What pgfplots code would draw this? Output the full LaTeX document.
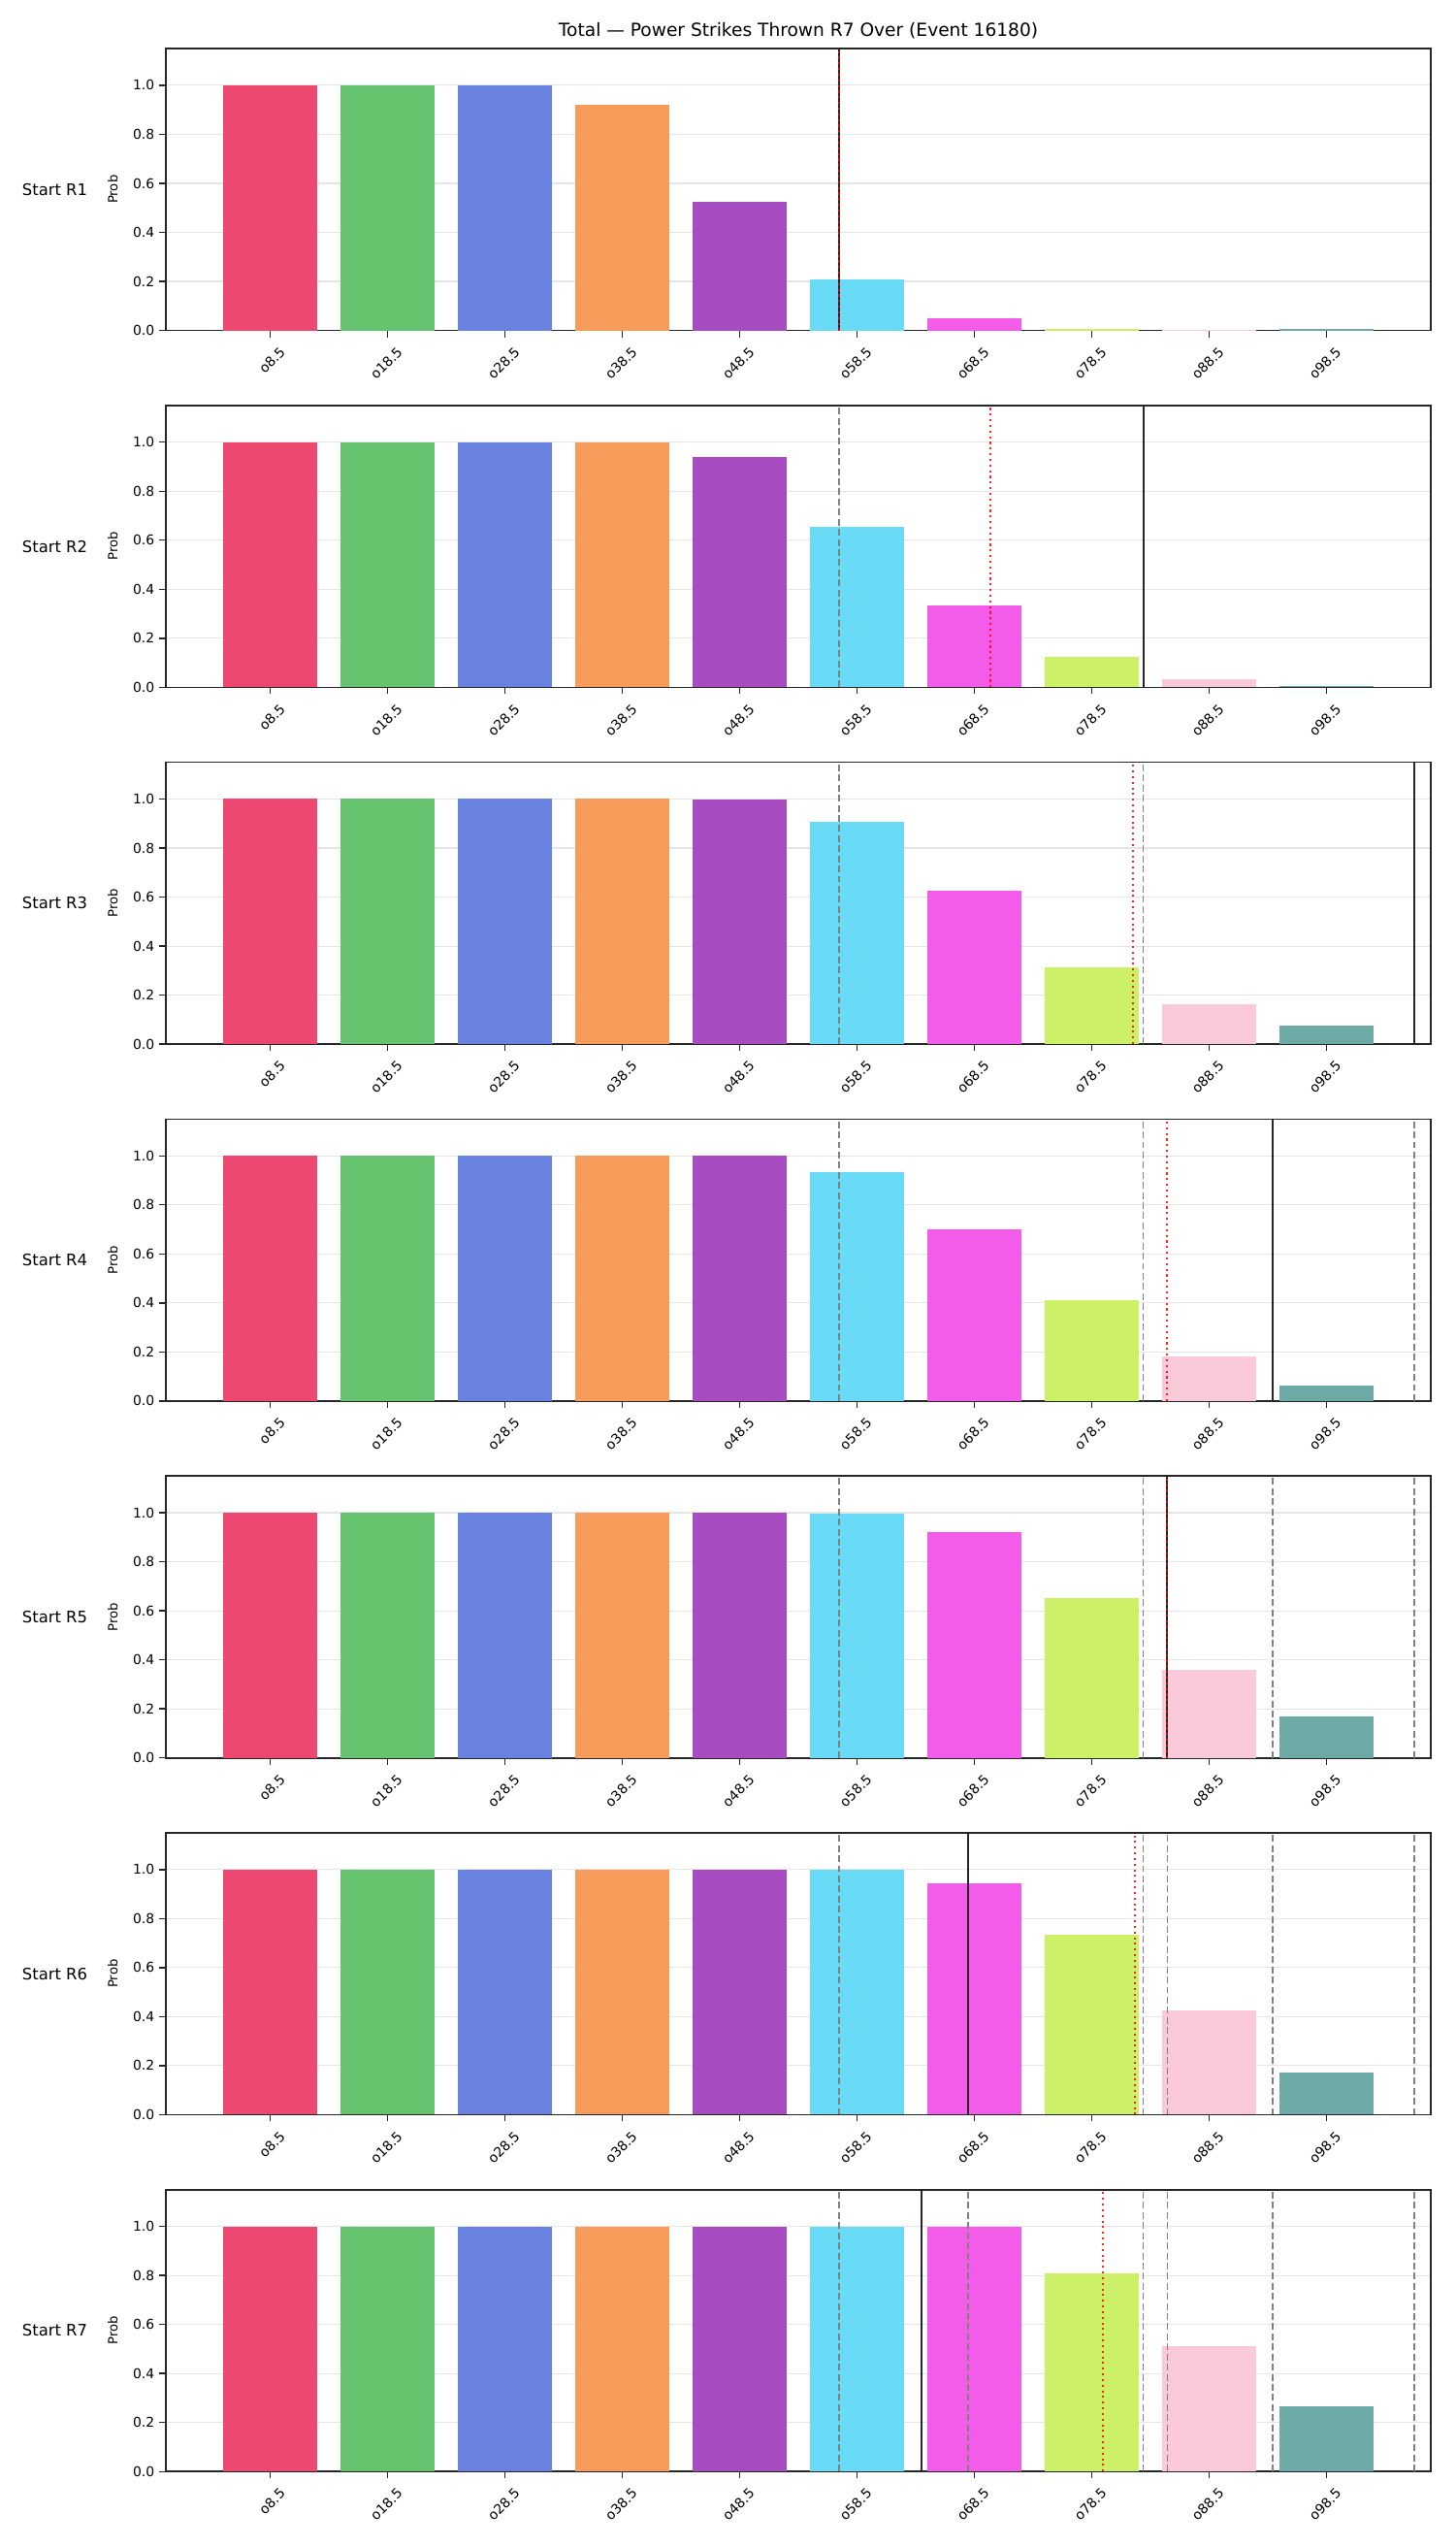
\documentclass[border=0pt]{standalone}
\usepackage{fontspec}
\setmainfont{DejaVu Sans}
\usepackage{pgfplots}
\usepackage{pgfplotstable}
\pgfplotsset{compat=1.18}

\definecolor{c0}{HTML}{EC4870}
\definecolor{c1}{HTML}{66C36E}
\definecolor{c2}{HTML}{6A82DF}
\definecolor{c3}{HTML}{F79C5B}
\definecolor{c4}{HTML}{A64BC0}
\definecolor{c5}{HTML}{69DBF6}
\definecolor{c6}{HTML}{F25CE9}
\definecolor{c7}{HTML}{CCF068}
\definecolor{c8}{HTML}{FAC9DA}
\definecolor{c9}{HTML}{6DAAA6}
\definecolor{spine}{HTML}{262626}

\pgfplotstableread{
idx r1    r2    r3    r4    r5    r6    r7
0   1.000 1.000 1.000 1.000 1.000 1.000 1.000
1   1.000 1.000 1.000 1.000 1.000 1.000 1.000
2   1.000 1.000 1.000 1.000 1.000 1.000 1.000
3   0.919 0.998 1.000 1.000 1.000 1.000 1.000
4   0.524 0.940 0.998 1.000 1.000 1.000 1.000
5   0.209 0.653 0.906 0.934 0.998 0.999 1.000
6   0.050 0.335 0.624 0.699 0.919 0.942 0.998
7   0.005 0.126 0.314 0.413 0.653 0.735 0.807
8   0.004 0.033 0.163 0.183 0.359 0.426 0.512
9   0.006 0.005 0.077 0.064 0.170 0.172 0.267
}\probs

\pgfplotsset{
  panel/.style={
    scale only axis, width=938.9pt, height=209.2pt,
    anchor=north west,
    xmin=-0.89, xmax=9.89, ymin=0, ymax=1.15,
    xtick={0,1,2,3,4,5,6,7,8,9},
    xticklabels={o8.5,o18.5,o28.5,o38.5,o48.5,o58.5,o68.5,o78.5,o88.5,o98.5},
    ytick={0,0.2,0.4,0.6,0.8,1.0},
    /pgf/number format/assume math mode=true,
    yticklabel style={/pgf/number format/fixed, /pgf/number format/fixed zerofill, /pgf/number format/precision=1, font=\fontsize{10}{12}\selectfont},
    xticklabel style={rotate=45, anchor=north east, inner sep=1pt, yshift=-8pt, xshift=1pt, font=\fontsize{10}{12}\selectfont},
    tick align=outside, xtick pos=bottom, ytick pos=left,
    major tick length=5pt,
    tick style={line width=1pt, spine},
    axis line style={line width=1.2pt, spine},
    ymajorgrids, major grid style={line width=0.8pt, black!10},
  }
}

\newcommand{\bars}[1]{%
  \pgfplotsinvokeforeach{0,...,9}{%
    \addplot[ybar, bar width=0.8, bar shift=0pt, fill=c##1, draw=none, restrict x to domain=##1:##1] table[x=idx,y=#1]{\probs};
  }%
}
\newcommand{\hist}[1]{\addplot[black!50, line width=1.2pt, dash pattern=on 5pt off 2.5pt] coordinates {(#1,0) (#1,1.15)};}
\newcommand{\cur}[1]{\addplot[spine, line width=1.5pt] coordinates {(#1,0) (#1,1.15)};}
\newcommand{\proj}[1]{\addplot[red, draw opacity=0.85, line width=1.5pt, dash pattern=on 1.5pt off 2.7pt] coordinates {(#1,0) (#1,1.15)};}
\newcommand{\rowlabel}[2]{%
  \node[font=\fontsize{11.8}{14}\selectfont] at (40.7pt,{#1-104.6pt}) {#2};
  \node[rotate=90, font=\fontsize{9.5}{11}\selectfont] at (83.6pt,{#1-104.6pt}) {Prob};
}

\begin{document}
\begin{tikzpicture}
\path[use as bounding box] (0,0) rectangle (1080pt,-1890pt);
\node[font=\fontsize{13.4}{16}\selectfont] at (592.6pt,-23pt) {Total — Power Strikes Thrown R7 Over (Event 16180)};

\begin{axis}[panel, at={(123.1pt,-36pt)}]
\bars{r1}
\cur{4.847}
\proj{4.847}
\end{axis}
\rowlabel{-36pt}{Start R1}

\begin{axis}[panel, at={(123.1pt,-300.8pt)}]
\bars{r2}
\hist{4.847}
\cur{7.44}
\proj{6.139}
\end{axis}
\rowlabel{-300.8pt}{Start R2}

\begin{axis}[panel, at={(123.1pt,-565.6pt)}]
\bars{r3}
\hist{4.847}
\hist{7.44}
\cur{9.749}
\proj{7.354}
\end{axis}
\rowlabel{-565.6pt}{Start R3}

\begin{axis}[panel, at={(123.1pt,-830.4pt)}]
\bars{r4}
\hist{4.847}
\hist{7.44}
\hist{9.749}
\cur{8.541}
\proj{7.645}
\end{axis}
\rowlabel{-830.4pt}{Start R4}

\begin{axis}[panel, at={(123.1pt,-1095.2pt)}]
\bars{r5}
\hist{4.847}
\hist{7.44}
\hist{8.541}
\hist{9.749}
\cur{7.645}
\proj{7.645}
\end{axis}
\rowlabel{-1095.2pt}{Start R5}

\begin{axis}[panel, at={(123.1pt,-1360pt)}]
\bars{r6}
\hist{4.847}
\hist{7.44}
\hist{7.645}
\hist{8.541}
\hist{9.749}
\cur{5.948}
\proj{7.369}
\end{axis}
\rowlabel{-1360pt}{Start R6}

\begin{axis}[panel, at={(123.1pt,-1624.8pt)}]
\bars{r7}
\hist{4.847}
\hist{5.948}
\hist{7.44}
\hist{7.645}
\hist{8.541}
\hist{9.749}
\cur{5.55}
\proj{7.099}
\end{axis}
\rowlabel{-1624.8pt}{Start R7}
\end{tikzpicture}
\end{document}
